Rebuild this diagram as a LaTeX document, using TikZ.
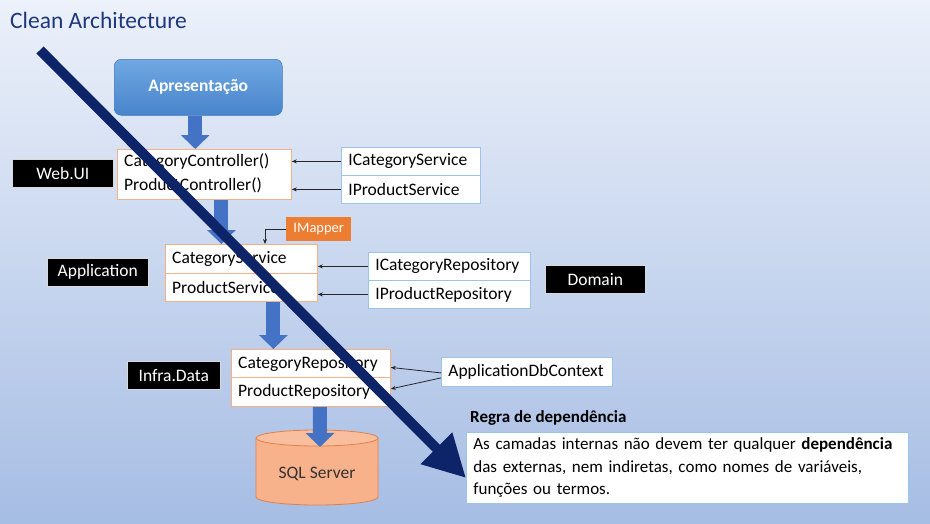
\documentclass[tikz,border=0pt]{standalone}
\usepackage{fontspec}
\setmainfont{Carlito}
\usetikzlibrary{arrows.meta,calc}
\definecolor{bgtop}{RGB}{236,241,250}
\definecolor{bgbot}{RGB}{166,189,228}
\definecolor{titlec}{RGB}{30,55,125}
\definecolor{obord}{RGB}{244,177,131}
\definecolor{bbord}{RGB}{157,195,230}
\definecolor{blockc}{RGB}{68,114,196}
\definecolor{navy}{RGB}{14,36,105}
\definecolor{mapc}{RGB}{237,125,49}
\definecolor{sqlf}{RGB}{247,178,140}
\definecolor{sqld}{RGB}{226,128,72}
\definecolor{aprt}{RGB}{112,168,226}
\definecolor{aprb}{RGB}{72,132,204}
\tikzset{
  txt/.style={font=\fontsize{17.5}{21}\selectfont, inner sep=0pt},
  lbl/.style={fill=black, draw=white!70!gray, line width=0.6pt, text=white, font=\fontsize{17.5}{21}\selectfont, minimum height=28pt, inner sep=0pt},
  obox/.style={fill=white, draw=obord, line width=0.8pt, anchor=north west, inner sep=0pt},
  bbox/.style={fill=white, draw=bbord, line width=0.8pt, anchor=north west, inner xsep=7pt, inner ysep=0pt, align=left, font=\fontsize{17.5}{21}\selectfont},
  conn/.style={draw=black!85, line width=0.8pt, -{Stealth[length=5pt,width=4pt]}},
  blockarrow/.style={draw=blockc, line width=14pt, -{Triangle[length=14pt,width=28pt]}},
}
\begin{document}
\begin{tikzpicture}[x=1pt,y=-1pt]
\shade[top color=bgtop, bottom color=bgbot] (0,0) rectangle (930,523);
\useasboundingbox (0,0) rectangle (930,523);

\node[anchor=west, text=titlec, font=\fontsize{23.5}{28}\selectfont, inner sep=0pt] (title) at (10,20) {Clean Architecture};

% Apresentacao
\node[anchor=north west, minimum width=168pt, minimum height=56pt, rounded corners=7pt, top color=aprt, bottom color=aprb, draw=aprb!90!black, line width=0.5pt, text=white, font=\bfseries\fontsize{17.5}{21}\selectfont] (apr) at (114,59) {Apresentação};

% Web.UI layer
\node[lbl, minimum width=101pt, anchor=north west] (webui) at (12,159) {Web.UI};
\node[obox, minimum width=174pt, minimum height=50pt] (ctrl) at (117,149) {};
\node[txt, anchor=west] (cc) at (124,162) {CategoryController()};
\node[txt, anchor=west] (pc) at (124,185) {ProductController()};

\node[bbox, text width=125pt, minimum height=28pt] (ics) at (341,147) {ICategoryService};
\node[bbox, text width=125pt, minimum height=28pt] (ips) at (341,175) {IProductService};
\draw[conn] (ics.west) -- (ctrl.east |- ics.west);
\draw[conn] (ips.west) -- (ctrl.east |- ips.west);

% Application layer
\node[lbl, minimum width=101pt, anchor=north west] (app) at (47,258) {Application};
\node[obox, minimum width=152pt, minimum height=29pt] (sc) at (165,244) {};
\node[obox, minimum width=152pt, minimum height=28pt] (sp) at (165,273) {};
\node[txt, anchor=west] (sct) at (172,259) {CategoryService};
\node[txt, anchor=west] (spt) at (172,287) {ProductService};

\node[anchor=north west, fill=mapc, text=white, font=\fontsize{14.5}{17}\selectfont, minimum width=65pt, minimum height=24pt, inner sep=0pt] (imap) at (286,217) {IMapper};
\coordinate (mapin) at (265,244);
\draw[conn] (imap.west) -| (mapin);

\node[bbox, text width=148pt, minimum height=28pt] (icr) at (368,252) {ICategoryRepository};
\node[bbox, text width=148pt, minimum height=28pt] (ipr) at (368,280) {IProductRepository};
\draw[conn] (icr.west) -- (sc.east |- icr.west);
\draw[conn] (ipr.west) -- (sp.east |- ipr.west);

\node[lbl, minimum width=100pt, anchor=north west] (dom) at (545,265) {Domain};

% Infra layer
\node[lbl, minimum width=93pt, anchor=north west] (infra) at (127,361) {Infra.Data};
\node[obox, minimum width=159pt, minimum height=28pt] (cr) at (231,349) {};
\node[obox, minimum width=159pt, minimum height=29pt] (pr) at (231,377) {};
\node[txt, anchor=west] (crt) at (238,364) {CategoryRepository};
\node[txt, anchor=west] (prt) at (238,392) {ProductRepository};

\node[bbox, text width=157pt, minimum height=29pt] (adb) at (441,357) {ApplicationDbContext};
\draw[conn] ([yshift=-1pt]adb.west) -- ([yshift=-4pt]cr.east);
\draw[conn] ([yshift=-6pt]adb.west) -- ([yshift=3pt]pr.east);

% SQL Server cylinder
\fill[sqlf] (256,438) -- (256,497) arc[start angle=180,end angle=360,x radius=61pt,y radius=8pt] -- (378,438) -- cycle;
\draw[sqld, line width=0.8pt] (256,438) -- (256,497) arc[start angle=180,end angle=360,x radius=61pt,y radius=8pt] -- (378,438);
\draw[sqld, fill=sqlf!85!white, line width=0.8pt] (317,438) ellipse[x radius=61pt, y radius=8pt];
\node[txt, text=black!80] (sql) at (317,474) {SQL Server};
\coordinate (sqltop) at (320,447);

% block arrows
\coordinate (b1) at ([xshift=-3pt]apr.south);
\draw[blockarrow] (b1) -- (b1 |- ctrl.north);
\coordinate (b2) at ([xshift=17pt]ctrl.south);
\draw[blockarrow] (b2) -- (b2 |- sc.north);
\coordinate (b3) at ([xshift=32pt]sp.south);
\draw[blockarrow] (b3) -- (b3 |- cr.north);
\coordinate (b4) at ([xshift=9pt]pr.south);
\draw[blockarrow] (b4) -- (sqltop);

% rule
\node[anchor=west, inner sep=0pt, font=\bfseries\fontsize{17}{20}\selectfont] (rtitle) at (470,418) {Regra de dependência};
\node[anchor=north west, fill=white, draw=bbord, line width=0.8pt, minimum width=442pt, minimum height=71pt, text width=428pt, inner xsep=7pt, inner ysep=3pt, align=left, font=\fontsize{17}{22.5}\selectfont] (rule) at (466,432) {As camadas internas não devem ter qualquer \textbf{dependência}\\das externas, nem indiretas, como nomes de variáveis,\\funções ou termos.};

% big dependency arrow
\coordinate (bs) at (40,50);
\coordinate (be) at (466,478);
\draw[navy, line width=10pt, -{Triangle[length=42pt,width=42pt]}] (bs) -- (be);
\end{tikzpicture}
\end{document}
